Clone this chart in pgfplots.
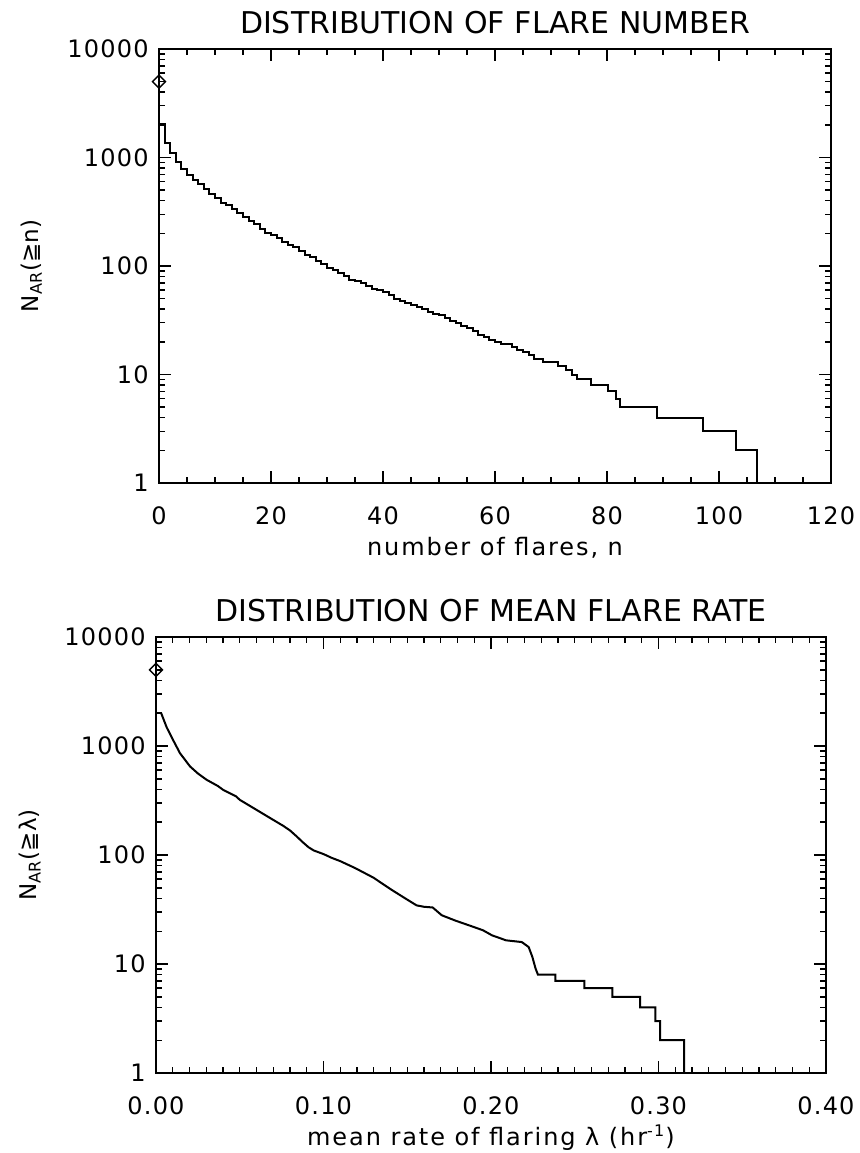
\documentclass[border=0pt]{standalone}
\usepackage{fontspec}
\setmainfont{DejaVu Sans}
\usepackage{pgfplots}
\pgfplotsset{compat=1.18}
\pgfplotsset{idl/.style={
  scale only axis, clip=false,
  axis line style={line width=1pt},
  tick align=inside, major tick length=6pt, minor tick length=3pt,
  every tick/.style={line width=0.7pt, black},
  ymin=1, ymax=10000,
  ytick={1,10,100,1000,10000}, yticklabels={1,10,100,1000,10000},
  minor ytick={2,3,4,5,6,7,8,9,20,30,40,50,60,70,80,90,200,300,400,500,600,700,800,900,2000,3000,4000,5000,6000,7000,8000,9000},
  yticklabel style={inner sep=0pt, anchor=east, xshift=-5pt, font=\fontsize{12}{14}\selectfont\addfontfeatures{LetterSpace=5}},
  xticklabel style={inner sep=0pt, anchor=north, yshift=-11.5pt, font=\fontsize{12}{14}\selectfont\addfontfeatures{LetterSpace=5}},
  title style={at={(axis description cs:0.5,1)}, anchor=base, yshift=1.5pt, inner sep=0pt, font=\fontsize{15}{18}\selectfont},
  xlabel style={at={(axis description cs:0.5,0)}, anchor=base, yshift=-36pt, inner sep=0pt, font=\fontsize{12}{15}\selectfont\addfontfeatures{LetterSpace=8}},
  ylabel style={anchor=center, inner sep=0pt, font=\fontsize{11.5}{14}\selectfont},
}}
\begin{document}
\begin{tikzpicture}
\useasboundingbox (0,0) rectangle (429.5pt,-576.5pt);
\begin{semilogyaxis}[idl,
  at={(79.5pt,-241.5pt)}, anchor=south west,
  width=336pt, height=217pt,
  xmin=0, xmax=120, xtick={0,20,40,60,80,100,120},
  xticklabels={0,20,40,60,80,100,120}, minor x tick num=3,
  title={DISTRIBUTION OF FLARE NUMBER},
  xlabel={number of flares, n},
  ylabel={N\textsubscript{AR}(≧n)},
  ylabel style={at={(axis description cs:-0.19,0.5)}},
]
\addplot[const plot mark left, line width=1pt, black] coordinates {
(0,2024) (1,1368) (2,1094) (3,915) (4,778) (5,690) (6,621) (7,566) (8,509) (9,461)
(10,421) (11,384) (12,365) (13,333) (14,306) (15,281) (16,262) (17,242) (18,221) (19,203)
(20,193) (21,180) (22,168) (23,156) (24,149) (25,138) (26,126) (27,120) (28,112) (29,104)
(30,95) (31,92) (32,86) (33,81) (34,75) (35,72) (36,69) (37,65) (38,62) (39,60)
(40,57) (41,54) (42,50) (43,48) (44,46) (45,44) (46,42) (47,40) (48,38) (49,36)
(50,35) (51,33) (52,31) (53,30) (54,28) (55,27) (56,25) (57,23) (58,22) (59,21)
(60,20) (61,19) (63,18) (64,17) (65,16) (66,15) (67,14) (68.6,13) (71.3,12) (72.7,11)
(73.7,10) (74.7,9) (77.1,8) (80.1,7) (81.6,6) (82.4,5) (89,4) (97.1,3) (103,2) (106.8,1)
};
\addplot[only marks, mark=square, mark size=2.3pt, mark options={rotate=45, line width=0.7pt, black}] coordinates {(0,5000)};
\end{semilogyaxis}
\begin{semilogyaxis}[idl,
  at={(78pt,-536.5pt)}, anchor=south west,
  width=335pt, height=218pt,
  xmin=0, xmax=0.4, xtick={0,0.1,0.2,0.3,0.4},
  xticklabels={0.00,0.10,0.20,0.30,0.40}, minor x tick num=9,
  title={DISTRIBUTION OF MEAN FLARE RATE},
  xlabel={mean rate of flaring λ (hr\textsuperscript{-1})},
  ylabel={N\textsubscript{AR}(≧λ)},
  ylabel style={at={(axis description cs:-0.188,0.5)}},
]
\addplot[sharp plot, line width=1pt, black] coordinates {
(0.003,2018) (0.0064,1480) (0.0104,1120) (0.0143,860) (0.0203,650) (0.0250,560)
(0.0302,490) (0.0369,430) (0.0402,395) (0.0478,345) (0.0501,320) (0.0532,300)
(0.0601,259) (0.0700,210) (0.0760,185) (0.0800,168) (0.0840,148) (0.0874,132)
(0.0910,118) (0.0942,110) (0.1000,102) (0.1050,94) (0.1099,88) (0.1188,76)
(0.1298,62) (0.1406,48) (0.1488,40) (0.1556,34.5) (0.1600,33.5) (0.1652,33)
(0.1706,28) (0.1788,25) (0.1870,22.6) (0.1952,20.4) (0.2007,18.3) (0.2057,17.2)
(0.2089,16.5) (0.2184,15.9) (0.2225,14.3) (0.2247,11.6) (0.2266,9.1) (0.2280,8)
(0.2385,8) (0.2385,7) (0.2557,7) (0.2557,6) (0.2724,6) (0.2724,5)
(0.2891,5) (0.2891,4) (0.2981,4) (0.2981,3) (0.3010,3) (0.3010,2)
(0.3153,2) (0.3153,1)
};
\addplot[only marks, mark=square, mark size=2.3pt, mark options={rotate=45, line width=0.7pt, black}] coordinates {(0,5000)};
\end{semilogyaxis}
\end{tikzpicture}
\end{document}
